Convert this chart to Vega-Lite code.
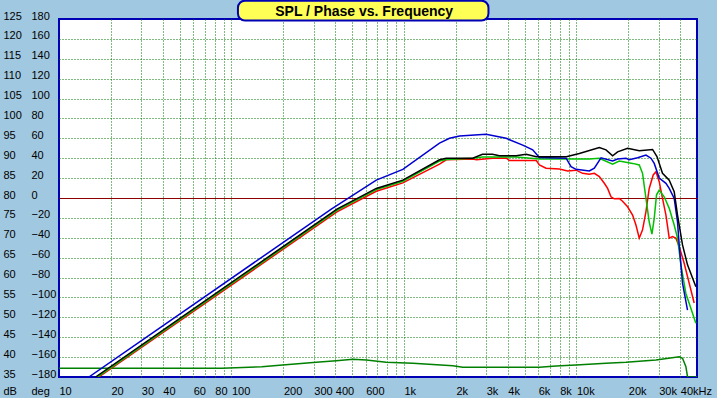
{
  "$schema": "https://vega.github.io/schema/vega-lite/v6.json",
  "width": 638,
  "height": 358,
  "autosize": {"type": "none"},
  "padding": {"left": 59, "top": 19, "right": 20, "bottom": 21},
  "background": "#A0C8E0",
  "config": {
    "view": {"fill": "white", "stroke": "#0000B4", "strokeWidth": 2},
    "font": "Liberation Sans",
    "axis": {
      "labelFont": "Liberation Sans",
      "labelFontSize": 11,
      "labelColor": "black",
      "titleFont": "Liberation Sans",
      "titleFontSize": 11,
      "titleFontWeight": "normal",
      "titleColor": "black",
      "domain": false,
      "ticks": false,
      "tickSize": 0,
      "labelFlush": false,
      "labelOverlap": false,
      "labelBound": false
    }
  },
  "datasets": {
    "spl": [
      {"s": "red", "f": 17.0, "db": 35.0},
      {"s": "red", "f": 408.7, "db": 76.5},
      {"s": "red", "f": 691, "db": 81.7},
      {"s": "red", "f": 985, "db": 83.8},
      {"s": "red", "f": 1607, "db": 88.5},
      {"s": "red", "f": 1758, "db": 89.6},
      {"s": "red", "f": 2506, "db": 89.8},
      {"s": "red", "f": 2633, "db": 89.6},
      {"s": "red", "f": 3259, "db": 90.0},
      {"s": "red", "f": 3926, "db": 90.0},
      {"s": "red", "f": 4087, "db": 89.4},
      {"s": "red", "f": 5858, "db": 89.4},
      {"s": "red", "f": 6095, "db": 88.3},
      {"s": "red", "f": 6668, "db": 87.5},
      {"s": "red", "f": 7962, "db": 87.3},
      {"s": "red", "f": 8893, "db": 86.8},
      {"s": "red", "f": 9947, "db": 87.0},
      {"s": "red", "f": 10860, "db": 86.2},
      {"s": "red", "f": 11877, "db": 86.0},
      {"s": "red", "f": 12696, "db": 86.2},
      {"s": "red", "f": 13570, "db": 85.4},
      {"s": "red", "f": 14510, "db": 83.7},
      {"s": "red", "f": 15160, "db": 82.4},
      {"s": "red", "f": 15860, "db": 80.3},
      {"s": "red", "f": 16580, "db": 79.8},
      {"s": "red", "f": 17720, "db": 79.9},
      {"s": "red", "f": 18510, "db": 79.2},
      {"s": "red", "f": 19795, "db": 77.8},
      {"s": "red", "f": 21160, "db": 75.7},
      {"s": "red", "f": 22130, "db": 73.2},
      {"s": "red", "f": 23130, "db": 69.9},
      {"s": "red", "f": 24170, "db": 72.0},
      {"s": "red", "f": 25296, "db": 76.6},
      {"s": "red", "f": 26420, "db": 82.4},
      {"s": "red", "f": 27870, "db": 85.8},
      {"s": "red", "f": 28910, "db": 86.6},
      {"s": "red", "f": 30200, "db": 84.1},
      {"s": "red", "f": 31550, "db": 79.9},
      {"s": "red", "f": 33030, "db": 75.7},
      {"s": "red", "f": 34510, "db": 69.9},
      {"s": "red", "f": 36060, "db": 70.3},
      {"s": "red", "f": 37720, "db": 69.9},
      {"s": "red", "f": 39430, "db": 67.8},
      {"s": "red", "f": 42130, "db": 63.6},
      {"s": "red", "f": 48150, "db": 53.6},

      {"s": "green", "f": 16.7, "db": 35.0},
      {"s": "green", "f": 408.7, "db": 76.9},
      {"s": "green", "f": 691, "db": 82.1},
      {"s": "green", "f": 985, "db": 84.2},
      {"s": "green", "f": 1607, "db": 89.3},
      {"s": "green", "f": 1758, "db": 89.7},
      {"s": "green", "f": 2506, "db": 90.0},
      {"s": "green", "f": 2851, "db": 90.3},
      {"s": "green", "f": 4468, "db": 90.3},
      {"s": "green", "f": 6095, "db": 89.8},
      {"s": "green", "f": 11877, "db": 89.8},
      {"s": "green", "f": 13570, "db": 90.0},
      {"s": "green", "f": 16206, "db": 88.5},
      {"s": "green", "f": 17720, "db": 89.3},
      {"s": "green", "f": 21160, "db": 88.7},
      {"s": "green", "f": 23130, "db": 88.3},
      {"s": "green", "f": 24170, "db": 86.2},
      {"s": "green", "f": 25296, "db": 79.9},
      {"s": "green", "f": 26420, "db": 74.0},
      {"s": "green", "f": 27400, "db": 70.9},
      {"s": "green", "f": 28250, "db": 74.9},
      {"s": "green", "f": 29130, "db": 80.8},
      {"s": "green", "f": 30200, "db": 82.0},
      {"s": "green", "f": 32270, "db": 80.3},
      {"s": "green", "f": 34510, "db": 77.4},
      {"s": "green", "f": 36880, "db": 73.2},
      {"s": "green", "f": 38550, "db": 69.9},
      {"s": "green", "f": 40330, "db": 63.2},
      {"s": "green", "f": 43110, "db": 56.0},
      {"s": "green", "f": 49260, "db": 48.5},

      {"s": "blue", "f": 14.9, "db": 35.0},
      {"s": "blue", "f": 379, "db": 77.2},
      {"s": "blue", "f": 691, "db": 84.5},
      {"s": "blue", "f": 985, "db": 87.2},
      {"s": "blue", "f": 1607, "db": 93.8},
      {"s": "blue", "f": 1837, "db": 95.0},
      {"s": "blue", "f": 2099, "db": 95.6},
      {"s": "blue", "f": 2996, "db": 96.0},
      {"s": "blue", "f": 3912, "db": 95.0},
      {"s": "blue", "f": 4881, "db": 93.3},
      {"s": "blue", "f": 5577, "db": 92.1},
      {"s": "blue", "f": 6095, "db": 90.2},
      {"s": "blue", "f": 8707, "db": 90.0},
      {"s": "blue", "f": 9305, "db": 87.9},
      {"s": "blue", "f": 9947, "db": 87.2},
      {"s": "blue", "f": 11877, "db": 86.8},
      {"s": "blue", "f": 12696, "db": 87.5},
      {"s": "blue", "f": 13883, "db": 90.1},
      {"s": "blue", "f": 16206, "db": 89.3},
      {"s": "blue", "f": 17324, "db": 89.8},
      {"s": "blue", "f": 19382, "db": 90.0},
      {"s": "blue", "f": 20246, "db": 89.6},
      {"s": "blue", "f": 22613, "db": 90.1},
      {"s": "blue", "f": 25296, "db": 90.8},
      {"s": "blue", "f": 27040, "db": 90.0},
      {"s": "blue", "f": 28250, "db": 88.7},
      {"s": "blue", "f": 30200, "db": 85.0},
      {"s": "blue", "f": 33030, "db": 83.7},
      {"s": "blue", "f": 34510, "db": 82.4},
      {"s": "blue", "f": 36880, "db": 79.9},
      {"s": "blue", "f": 38550, "db": 74.0},
      {"s": "blue", "f": 39430, "db": 68.2},
      {"s": "blue", "f": 41210, "db": 58.6},
      {"s": "blue", "f": 44050, "db": 51.8},

      {"s": "black", "f": 16.3, "db": 35.0},
      {"s": "black", "f": 408.7, "db": 77.2},
      {"s": "black", "f": 691, "db": 82.4},
      {"s": "black", "f": 985, "db": 84.5},
      {"s": "black", "f": 1607, "db": 89.6},
      {"s": "black", "f": 1758, "db": 90.0},
      {"s": "black", "f": 2506, "db": 90.0},
      {"s": "black", "f": 2851, "db": 91.0},
      {"s": "black", "f": 3259, "db": 91.0},
      {"s": "black", "f": 3577, "db": 90.6},
      {"s": "black", "f": 4468, "db": 90.6},
      {"s": "black", "f": 5106, "db": 91.0},
      {"s": "black", "f": 5858, "db": 90.4},
      {"s": "black", "f": 8742, "db": 90.4},
      {"s": "black", "f": 10394, "db": 91.2},
      {"s": "black", "f": 13570, "db": 92.7},
      {"s": "black", "f": 14840, "db": 92.1},
      {"s": "black", "f": 16206, "db": 90.6},
      {"s": "black", "f": 17324, "db": 91.6},
      {"s": "black", "f": 19795, "db": 92.5},
      {"s": "black", "f": 23130, "db": 91.9},
      {"s": "black", "f": 27630, "db": 92.2},
      {"s": "black", "f": 29300, "db": 90.4},
      {"s": "black", "f": 31550, "db": 86.2},
      {"s": "black", "f": 34510, "db": 84.5},
      {"s": "black", "f": 36880, "db": 81.6},
      {"s": "black", "f": 38550, "db": 75.7},
      {"s": "black", "f": 41210, "db": 68.2},
      {"s": "black", "f": 44050, "db": 63.2},
      {"s": "black", "f": 49260, "db": 57.7}
    ],
    "phase": [
      {"f": 10, "deg": -171.3},
      {"f": 88, "deg": -171.3},
      {"f": 150, "deg": -169.6},
      {"f": 198, "deg": -167.9},
      {"f": 310, "deg": -165.2},
      {"f": 405, "deg": -163.6},
      {"f": 506, "deg": -162.2},
      {"f": 605, "deg": -162.9},
      {"f": 790, "deg": -165.2},
      {"f": 1126, "deg": -166.2},
      {"f": 1919, "deg": -168.6},
      {"f": 2193, "deg": -170.2},
      {"f": 6095, "deg": -170.2},
      {"f": 7619, "deg": -168.9},
      {"f": 9947, "deg": -167.9},
      {"f": 14840, "deg": -166.2},
      {"f": 19382, "deg": -165.2},
      {"f": 28910, "deg": -162.9},
      {"f": 39430, "deg": -159.6},
      {"f": 41210, "deg": -161.2},
      {"f": 43110, "deg": -169.6},
      {"f": 44050, "deg": -179.7},
      {"f": 50000, "deg": -180}
    ],
    "heading": [
      {"title": "SPL / Phase vs. Frequency"}
    ]
  },
  "layer": [
    {
      "data": {"name": "phase"},
      "mark": {"type": "line", "color": "#008000", "strokeWidth": 1.5, "clip": true},
      "encoding": {
        "x": {"field": "f", "type": "quantitative", "scale": {"type": "log", "domain": [10, 50000], "nice": false}},
        "y": {
          "field": "deg",
          "type": "quantitative",
          "scale": {"domain": [-180, 180], "nice": false, "zero": false},
          "axis": {
            "orient": "left",
            "values": [-180, -160, -140, -120, -100, -80, -60, -40, -20, 0, 20, 40, 60, 80, 100, 120, 140, 160, 180],
            "labelAlign": "left",
            "labelBaseline": "middle",
            "labelPadding": 28,
            "labelOffset": -3,
            "labelOverlap": false,
            "grid": false,
            "title": "deg",
            "titleAngle": 0,
            "titleX": -28,
            "titleY": 375,
            "titleAlign": "left",
            "titleBaseline": "alphabetic"
          }
        }
      }
    },
    {
      "data": {"name": "spl"},
      "mark": {"type": "line", "strokeWidth": 1.5, "clip": true},
      "encoding": {
        "x": {
          "field": "f",
          "type": "quantitative",
          "scale": {"type": "log", "domain": [10, 50000], "nice": false},
          "axis": {
            "values": [10, 20, 30, 40, 50, 60, 70, 80, 90, 100, 200, 300, 400, 500, 600, 700, 800, 900, 1000, 2000, 3000, 4000, 5000, 6000, 7000, 8000, 9000, 10000, 20000, 30000, 40000],
            "labelExpr": "indexof([10,20,30,40,60,80,100,200,300,400,600], datum.value) >= 0 ? '' + datum.value : (indexof([1000,2000,3000,4000,6000,8000,10000,20000,30000], datum.value) >= 0 ? (datum.value / 1000) + 'k' : (datum.value == 40000 ? '40kHz' : ''))",
            "labelAlign": "left",
            "labelBaseline": "alphabetic",
            "labelPadding": 17,
            "labelOverlap": false,
            "grid": true,
            "gridColor": "#007800",
            "gridDash": [1, 2],
            "gridWidth": 1,
            "gridOpacity": {"condition": {"test": "datum.value == 10", "value": 0}, "value": 1},
            "title": null
          }
        },
        "y": {
          "field": "db",
          "type": "quantitative",
          "scale": {"domain": [35, 125], "nice": false, "zero": false},
          "axis": {
            "orient": "left",
            "values": [35, 40, 45, 50, 55, 60, 65, 70, 75, 80, 85, 90, 95, 100, 105, 110, 115, 120, 125],
            "labelAlign": "left",
            "labelBaseline": "middle",
            "labelPadding": 56,
            "labelOffset": -3,
            "labelOverlap": false,
            "grid": true,
            "gridColor": {"condition": {"test": "datum.value == 80", "value": "#8C0000"}, "value": "#007800"},
            "gridDash": {"condition": {"test": "datum.value == 80", "value": []}, "value": [1, 2]},
            "gridWidth": 1,
            "gridOpacity": {"condition": {"test": "datum.value == 35 || datum.value == 125", "value": 0}, "value": 1},
            "title": "dB",
            "titleAngle": 0,
            "titleX": -56,
            "titleY": 375,
            "titleAlign": "left",
            "titleBaseline": "alphabetic"
          }
        },
        "color": {
          "field": "s",
          "type": "nominal",
          "scale": {"domain": ["red", "green", "blue", "black"], "range": ["#FF0000", "#00C000", "#0000D0", "#000000"]},
          "legend": null
        }
      }
    },
    {
      "data": {"name": "heading"},
      "mark": {"type": "rect", "fill": "#FFFF55", "stroke": "#0000B4", "strokeWidth": 2, "cornerRadius": 7, "clip": false},
      "encoding": {
        "x": {"datum": 109, "type": "quantitative"},
        "x2": {"datum": 3090},
        "y": {"datum": 124.6, "type": "quantitative", "scale": {"domain": [35, 125], "nice": false, "zero": false}, "axis": null},
        "y2": {"datum": 129.6}
      }
    },
    {
      "data": {"name": "heading"},
      "mark": {"type": "text", "font": "Liberation Sans", "fontWeight": "bold", "fontSize": 14, "align": "center", "baseline": "alphabetic", "color": "black", "clip": false},
      "encoding": {
        "x": {"datum": 588, "type": "quantitative"},
        "y": {"datum": 125.75, "type": "quantitative", "scale": {"domain": [35, 125], "nice": false, "zero": false}, "axis": null},
        "text": {"field": "title", "type": "nominal"}
      }
    }
  ],
  "resolve": {"scale": {"y": "independent"}}
}
